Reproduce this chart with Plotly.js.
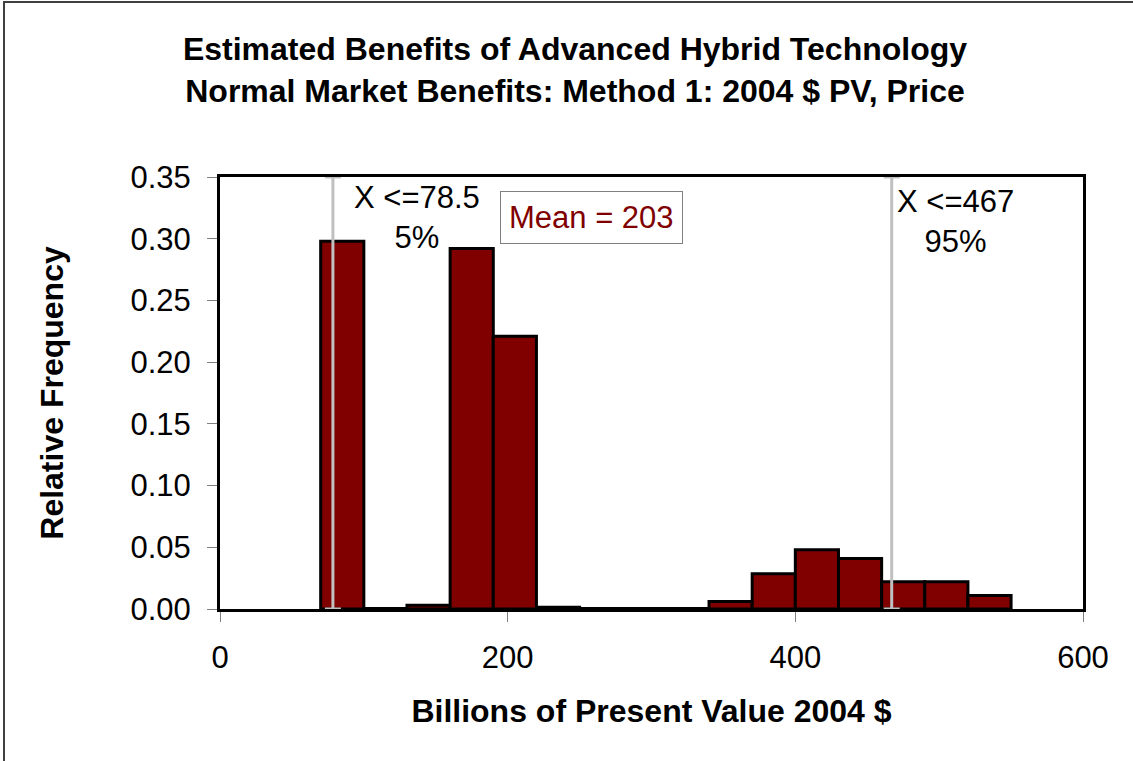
<!DOCTYPE html>
<html>
<head>
<meta charset="utf-8">
<script src="https://cdn.plot.ly/plotly-3.0.1.min.js"></script>
<style>
  html, body { margin: 0; padding: 0; background: #ffffff; }
  #wrap { position: relative; width: 1133px; height: 761px; overflow: hidden; }
  #chart { position: absolute; left: 0; top: 0; width: 1133px; height: 761px; }
  #frame { position: absolute; left: 3px; top: 1px; right: -10px; bottom: -10px;
           border-left: 2px solid #404040; border-top: 2px solid #404040; pointer-events: none; }
</style>
</head>
<body>
<div id="wrap">
  <div id="chart"></div>
  <div id="frame"></div>
</div>
<script>
// ---- data ----
const binStart = [70, 100, 130, 160, 190, 220, 250, 280, 310, 340, 370, 400, 430, 460, 490, 520];
const binWidth = 30;
const relFreq = [0.298, 0.0005, 0.003, 0.292, 0.221, 0.0015, 0.0005, 0.0005, 0.0005, 0.006, 0.0286, 0.048, 0.041, 0.022, 0.022, 0.011];
const percentileValues = [78.5, 467];
const percentileLabels = ["X <=78.5<br>5%", "X <=467<br>95%"];
const meanValue = 203;
const xTicks = [0, 200, 400, 600];
const yTicks = [0, 0.05, 0.10, 0.15, 0.20, 0.25, 0.30, 0.35];

const FONT = "Liberation Sans, Arial, sans-serif";
const barCenters = binStart.map(s => s + binWidth / 2);

const bars = {
  type: "bar",
  x: barCenters,
  y: relFreq,
  width: binStart.map(() => binWidth),
  marker: { color: "#800000", line: { color: "#000000", width: 3 } },
  hoverinfo: "skip",
  showlegend: false
};

const yTop = yTicks[yTicks.length - 1];
const pctLines = {
  type: "scatter",
  mode: "markers",
  x: percentileValues,
  y: percentileValues.map(() => 0),
  marker: { size: 0.1, color: "rgba(0,0,0,0)" },
  error_y: {
    type: "data", symmetric: false,
    array: percentileValues.map(() => yTop),
    arrayminus: percentileValues.map(() => 0),
    color: "#c0c0c0", thickness: 3, width: 8
  },
  hoverinfo: "skip",
  showlegend: false
};

const annotations = [
  {
    x: percentileValues[0], xref: "x", xanchor: "left", xshift: 19,
    y: 1, yref: "paper", yanchor: "top", yshift: -1,
    text: percentileLabels[0], showarrow: false, align: "center",
    font: { family: FONT, size: 31, color: "#000000" }
  },
  {
    x: percentileValues[1], xref: "x", xanchor: "left", xshift: 3,
    y: 1, yref: "paper", yanchor: "top", yshift: -5,
    text: percentileLabels[1], showarrow: false, align: "center",
    font: { family: FONT, size: 31, color: "#000000" }
  },
  {
    x: 0.4305, xref: "paper", xanchor: "center",
    y: 0.907, yref: "paper", yanchor: "middle",
    text: "Mean = " + meanValue, showarrow: false,
    bgcolor: "#ffffff", bordercolor: "#808080", borderwidth: 1, borderpad: 8,
    font: { family: FONT, size: 31, color: "#800000" }
  }
];

const layout = {
  width: 1133,
  height: 761,
  margin: { l: 220, r: 50, t: 177, b: 152, pad: 0 },
  paper_bgcolor: "#ffffff",
  plot_bgcolor: "#ffffff",
  font: { family: FONT, size: 31, color: "#000000" },
  title: {
    text: "<b>Estimated Benefits of Advanced Hybrid Technology<br>Normal Market Benefits: Method 1: 2004 $ PV, Price</b>",
    font: { family: FONT, size: 32, color: "#000000" },
    x: 0.5075, xref: "container", xanchor: "center",
    y: 0.921, yref: "container", yanchor: "top"
  },
  xaxis: {
    range: [0, 600],
    tickvals: xTicks,
    ticktext: xTicks.map(String),
    ticks: "outside", ticklen: 10, tickwidth: 1, tickcolor: "#808080",
    ticklabelstandoff: 9,
    showline: true, linecolor: "#000000", linewidth: 3, mirror: true,
    showgrid: false, zeroline: false,
    tickfont: { family: FONT, size: 31, color: "#000000" },
    title: { text: "<b>Billions of Present Value 2004 $</b>", font: { family: FONT, size: 32, color: "#000000" }, standoff: 26 },
    fixedrange: true
  },
  yaxis: {
    range: [0, yTop],
    tickvals: yTicks,
    ticktext: yTicks.map(v => v.toFixed(2)),
    ticks: "outside", ticklen: 10, tickwidth: 1, tickcolor: "#808080",
    ticklabelstandoff: 10,
    showline: true, linecolor: "#000000", linewidth: 3, mirror: true,
    showgrid: false, zeroline: false,
    tickfont: { family: FONT, size: 31, color: "#000000" },
    title: { text: "<b>Relative Frequency</b>", font: { family: FONT, size: 32, color: "#000000" }, standoff: 58 },
    fixedrange: true
  },
  bargap: 0,
  annotations: annotations,
  showlegend: false
};

Plotly.newPlot("chart", [bars, pctLines], layout, { displayModeBar: false, staticPlot: true });
</script>
</body>
</html>
